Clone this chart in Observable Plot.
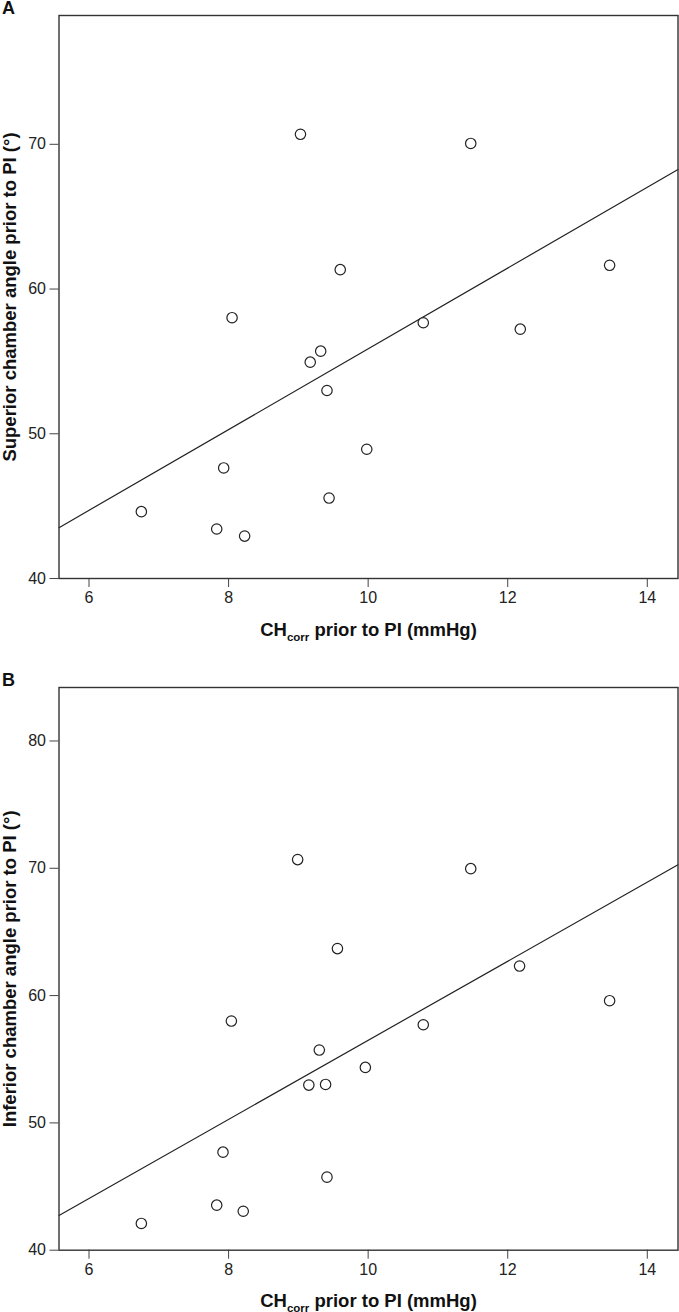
<!DOCTYPE html>
<html>
<head>
<meta charset="utf-8">
<script src="https://cdn.jsdelivr.net/npm/d3@7"></script>
<script src="https://cdn.jsdelivr.net/npm/@observablehq/plot@0.6"></script>
<style>
  html, body { margin: 0; padding: 0; background: #fff; }
  #wrap { position: relative; width: 679px; height: 1312px; font-family: Arial, "Liberation Sans", Helvetica, sans-serif; }
  .panel { position: absolute; left: 0; }
  .plab { position: absolute; left: 2px; font-weight: bold; font-size: 18px; color: #111; line-height: 1; }
  svg text { fill: #222; }
  g[aria-label="x-axis label"] text, g[aria-label="y-axis label"] text { font-weight: bold; font-size: 18.5px; fill: #111; }
</style>
</head>
<body>
<div id="wrap"></div>
<script>
// CH_corr prior to PI (mmHg), panel A
const chA = [9.03, 11.47, 13.46, 9.60, 8.05, 10.79, 12.18, 9.32, 9.17, 9.41, 9.98, 7.93, 9.44, 6.75, 7.83, 8.23];
// Superior chamber angle prior to PI (°)
const superiorAngle = [70.69, 70.06, 61.64, 61.34, 58.02, 57.67, 57.23, 55.71, 54.95, 52.99, 48.93, 47.64, 45.56, 44.62, 43.42, 42.93];

// CH_corr prior to PI (mmHg), panel B
const chB = [8.99, 11.47, 9.56, 12.17, 13.46, 8.04, 10.79, 9.30, 9.96, 9.15, 9.39, 7.92, 9.41, 7.83, 8.21, 6.75];
// Inferior chamber angle prior to PI (°)
const inferiorAngle = [70.68, 69.97, 63.69, 62.32, 59.60, 58.00, 57.71, 55.72, 54.36, 52.97, 53.02, 47.70, 45.74, 43.54, 43.06, 42.10];

const xTicks = [6, 8, 10, 12, 14];
const yTicksA = [40, 50, 60, 70];
const yTicksB = [40, 50, 60, 70, 80];
const xDomain = [5.57, 14.44];
const yDomainA = [40, 78.9];
const yDomainB = [40, 84.2];

function fit(xs, ys) {
  const mx = d3.mean(xs), my = d3.mean(ys);
  let sxy = 0, sxx = 0;
  xs.forEach((x, i) => { sxy += (x - mx) * (ys[i] - my); sxx += (x - mx) ** 2; });
  const b = sxy / sxx, a = my - b * mx;
  return xDomain.map(x => ({x, y: a + b * x}));
}

function panel(xs, ys, yDomain, yTicks, yLabel, height, marginTop, marginBottom) {
  const data = xs.map((x, i) => ({x, y: ys[i]}));
  const svg = Plot.plot({
    width: 679,
    height,
    marginTop,
    marginBottom,
    marginLeft: 58.5,
    marginRight: 1.5,
    style: {fontFamily: 'Arial, "Liberation Sans", Helvetica, sans-serif', fontSize: "16px", background: "white", overflow: "visible"},
    x: {domain: xDomain},
    y: {domain: yDomain},
    marks: [
      Plot.axisX({ticks: xTicks, tickSize: 9, tickPadding: 4, stroke: "#444", fontSize: 16, tickFormat: d => String(d),
        label: "CHcorr prior to PI (mmHg)", labelAnchor: "center", labelArrow: "none", labelOffset: 57}),
      Plot.axisY({ticks: yTicks, tickSize: 9, tickPadding: 4, stroke: "#444", fontSize: 16, tickFormat: d => String(d),
        label: yLabel, labelAnchor: "center", labelArrow: "none", labelOffset: 56.5}),
      Plot.line(fit(xs, ys), {x: "x", y: "y", stroke: "#222", strokeWidth: 1.2}),
      Plot.dot(data, {x: "x", y: "y", r: 5.2, stroke: "#222", strokeWidth: 1.2, fill: "white"}),
      Plot.frame({stroke: "#333", strokeWidth: 1.4})
    ]
  });
  // subscript "corr"
  const t = svg.querySelector('g[aria-label="x-axis label"] text');
  if (t) {
    t.textContent = "";
    const ns = "http://www.w3.org/2000/svg";
    const a = document.createElementNS(ns, "tspan"); a.textContent = "CH";
    const s = document.createElementNS(ns, "tspan"); s.textContent = "corr";
    s.setAttribute("font-size", "11.5px"); s.setAttribute("dy", "5");
    const r = document.createElementNS(ns, "tspan"); r.textContent = " prior to PI (mmHg)"; r.setAttribute("dy", "-5");
    t.append(a, s, r);
  }
  return svg;
}

const wrap = document.getElementById("wrap");
const A = panel(chA, superiorAngle, yDomainA, yTicksA, "Superior chamber angle prior to PI (°)", 650, 15, 72);
A.classList.add("panel"); A.style.top = "0px";
const B = panel(chB, inferiorAngle, yDomainB, yTicksB, "Inferior chamber angle prior to PI (°)", 662, 37, 62.3);
B.classList.add("panel"); B.style.top = "650px";
wrap.append(A, B);
const la = document.createElement("div"); la.className = "plab"; la.textContent = "A"; la.style.top = "-1px";
const lb = document.createElement("div"); lb.className = "plab"; lb.textContent = "B"; lb.style.top = "671px";
wrap.append(la, lb);
</script>
</body>
</html>
